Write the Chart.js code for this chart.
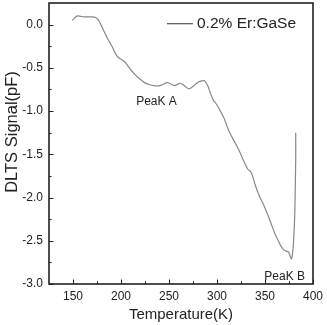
<!DOCTYPE html>
<html>
<head>
<meta charset="utf-8">
<script src="https://cdn.jsdelivr.net/npm/chart.js@4.4.0/dist/chart.umd.min.js"></script>
<style>
html, body { margin: 0; padding: 0; background: #fff; }
</style>
</head>
<body>
<canvas id="myChart" width="327" height="325"></canvas>
<script>
// data
const temperature = [149, 150.5, 153, 155, 158, 162, 166, 170, 173, 176, 179, 182, 185, 188, 191, 194, 197, 200, 203, 206,
    210, 214, 218, 222, 226, 230, 234, 238, 242, 245, 247.5, 250, 253, 256, 259, 261.5, 264, 267, 270, 272,
    275, 278, 281, 284, 286.5, 288.5, 290.5, 293, 296, 300, 304, 308, 312, 316, 320, 324, 328, 332, 335, 337,
    340, 344, 348, 351, 354, 357, 360, 363, 366, 369, 372, 374.5, 376, 377.5, 379, 380, 381, 381.5, 382, 382];
const signal = [0.05, 0.06, 0.09, 0.1, 0.095, 0.09, 0.09, 0.09, 0.085, 0.06, 0.0, -0.07, -0.14, -0.2, -0.26, -0.33, -0.38, -0.40, -0.42, -0.46,
    -0.52, -0.57, -0.615, -0.65, -0.68, -0.695, -0.705, -0.71, -0.70, -0.685, -0.67, -0.675, -0.695, -0.705, -0.69, -0.678, -0.69, -0.715, -0.74, -0.738,
    -0.715, -0.685, -0.66, -0.65, -0.648, -0.67, -0.71, -0.79, -0.87, -0.93, -1.01, -1.10, -1.22, -1.31, -1.39, -1.48, -1.58, -1.67, -1.70, -1.75,
    -1.86, -1.98, -2.07, -2.15, -2.23, -2.32, -2.41, -2.48, -2.55, -2.60, -2.62, -2.63, -2.67, -2.71, -2.62, -2.45, -2.2, -1.9, -1.55, -1.25];

const xTicks = [150, 200, 250, 300, 350, 400];
const yTicks = [-3.0, -2.5, -2.0, -1.5, -1.0, -0.5, 0.0];
const seriesLabel = '0.2% Er:GaSe';
const peakLabels = ['PeaK A', 'PeaK B'];
const peakT = [237, 370.5];
const peakSignal = [-0.89, -2.915];

const font = '"Liberation Sans", Arial, sans-serif';

function stroke(ctx, x1, y1, x2, y2) {
    ctx.beginPath();
    ctx.moveTo(x1, y1);
    ctx.lineTo(x2, y2);
    ctx.stroke();
}

const framePlugin = {
    id: 'frame',
    afterDraw(chart) {
        const { ctx, chartArea: a, scales: { x, y } } = chart;
        ctx.save();
        ctx.strokeStyle = '#222';
        ctx.lineWidth = 1.6;
        ctx.strokeRect(a.left, a.top, a.right - a.left, a.bottom - a.top);

        // inward ticks, major + minor
        ctx.lineWidth = 1;
        xTicks.forEach(v => {
            const px = Math.round(x.getPixelForValue(v)) + 0.5;
            stroke(ctx, px, a.bottom, px, a.bottom - 4.5);
            const m = v + 25;
            if (m < x.max) {
                const pm = Math.round(x.getPixelForValue(m)) + 0.5;
                stroke(ctx, pm, a.bottom, pm, a.bottom - 2.5);
            }
            const m2 = v - 25;
            if (m2 > x.min) {
                const pm = Math.round(x.getPixelForValue(m2)) + 0.5;
                stroke(ctx, pm, a.bottom, pm, a.bottom - 2.5);
            }
        });
        yTicks.forEach(v => {
            const py = Math.round(y.getPixelForValue(v)) + 0.5;
            stroke(ctx, a.left, py, a.left + 4.5, py);
            const m = v + 0.25;
            if (m < y.max) {
                const pm = Math.round(y.getPixelForValue(m)) + 0.5;
                stroke(ctx, a.left, pm, a.left + 2.5, pm);
            }
        });

        // legend
        const ly = y.getPixelForValue(0.01);
        ctx.strokeStyle = '#333';
        stroke(ctx, a.right - 146, ly, a.right - 120, ly);
        ctx.fillStyle = '#222';
        ctx.font = '15.5px ' + font;
        ctx.textBaseline = 'middle';
        ctx.textAlign = 'left';
        ctx.fillText(seriesLabel, a.right - 116, ly);

        // peak labels
        ctx.font = '12px ' + font;
        ctx.textAlign = 'center';
        peakLabels.forEach((t, i) => {
            ctx.fillText(t, x.getPixelForValue(peakT[i]), y.getPixelForValue(peakSignal[i]));
        });

        // y title
        ctx.save();
        ctx.translate(12, 132);
        ctx.rotate(-Math.PI / 2);
        ctx.font = '16.5px ' + font;
        ctx.textAlign = 'center';
        ctx.fillText('DLTS Signal(pF)', 0, 0);
        ctx.restore();
        ctx.restore();
    }
};

new Chart(document.getElementById('myChart').getContext('2d'), {
    type: 'line',
    data: {
        datasets: [{
            label: seriesLabel,
            data: temperature.map((t, i) => ({ x: t, y: signal[i] })),
            borderColor: '#888888',
            borderWidth: 1.2,
            pointRadius: 0,
            tension: 0.3,
            fill: false
        }]
    },
    options: {
        responsive: false,
        animation: false,
        devicePixelRatio: 1,
        layout: { padding: { top: 3, right: 14, left: 0, bottom: 0 } },
        scales: {
            x: {
                type: 'linear',
                min: 125,
                max: 400,
                afterFit: s => { s.height = 41; s.paddingLeft = 0; s.paddingRight = 0; },
                afterBuildTicks: s => { s.ticks = xTicks.map(v => ({ value: v })); },
                grid: { display: false, drawTicks: false },
                border: { display: false },
                ticks: {
                    padding: 5,
                    color: '#222',
                    font: { family: font, size: 12 },
                    maxRotation: 0,
                    callback: v => String(v)
                },
                title: {
                    display: true,
                    text: 'Temperature(K)',
                    color: '#222',
                    font: { family: font, size: 15 },
                    padding: { top: 0, bottom: 1 }
                }
            },
            y: {
                type: 'linear',
                min: -3.0,
                max: 0.25,
                afterFit: s => { s.width = 49; s.paddingTop = 0; s.paddingBottom = 0; },
                afterBuildTicks: s => { s.ticks = yTicks.map(v => ({ value: v })); },
                grid: { display: false, drawTicks: false },
                border: { display: false },
                ticks: {
                    padding: 6,
                    color: '#222',
                    font: { family: font, size: 12 },
                    callback: v => Number(v).toFixed(1)
                }
            }
        },
        plugins: {
            legend: { display: false },
            tooltip: { enabled: false }
        }
    },
    plugins: [framePlugin]
});
</script>
</body>
</html>
